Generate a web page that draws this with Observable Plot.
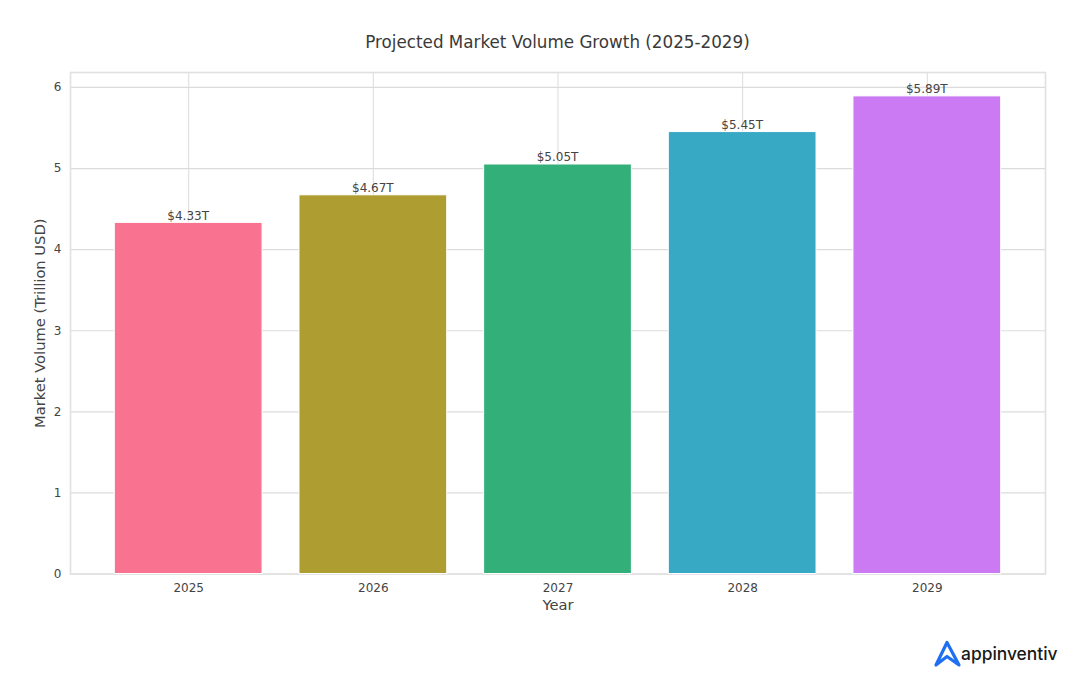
<!DOCTYPE html>
<html>
<head>
<meta charset="utf-8">
<script src="https://cdn.jsdelivr.net/npm/d3@7"></script>
<script src="https://cdn.jsdelivr.net/npm/@observablehq/plot@0.6"></script>
<style>
html,body{margin:0;padding:0;background:#fff;width:1080px;height:699px;overflow:hidden;font-family:"DejaVu Sans",sans-serif}
#title{position:absolute;left:70px;width:975px;top:32px;text-align:center;font-size:16.75px;line-height:20px;color:#3a3a3a}
#chart{position:absolute;left:0;top:60px}
#chart svg{display:block}
#logo{position:absolute;left:933px;top:639px;width:130px;height:30px}
#logo svg{position:absolute;left:0;top:0}
#logo span{position:absolute;left:28px;top:3px;line-height:24px;font-family:Inter,"Noto Sans",sans-serif;font-size:17.4px;font-weight:500;color:#1a1a1a;white-space:nowrap}
</style>
</head>
<body>
<div id="title">Projected Market Volume Growth (2025-2029)</div>
<div id="chart"></div>
<div id="logo">
<svg width="30" height="30" viewBox="0 0 30 30"><path d="M3 26 L14 3.5 L26 26 L14 17.5 Z" fill="none" stroke="#1f6ff2" stroke-width="3.2" stroke-linejoin="round" stroke-linecap="round"/></svg>
<span>appinventiv</span>
</div>
<script>
const years = ["2025", "2026", "2027", "2028", "2029"];
const volumes = [4.33, 4.67, 5.05, 5.45, 5.89];
const barLabels = ["$4.33T", "$4.67T", "$5.05T", "$5.45T", "$5.89T"];
const barColors = ["#f97390", "#ae9d31", "#33b07a", "#38a9c5", "#cc7af4"];
const yTicks = [0, 1, 2, 3, 4, 5, 6];
const yTop = 6.1845;

const rows = years.map((year, i) => ({year, volume: volumes[i], label: barLabels[i], color: barColors[i]}));

const plot = Plot.plot({
  width: 1080,
  height: 560,
  marginTop: 12,
  marginBottom: 46.5,
  marginLeft: 70,
  marginRight: 35,
  style: {fontFamily: '"DejaVu Sans", sans-serif', background: "#fff", overflow: "visible"},
  x: {domain: years, paddingInner: 0.2, paddingOuter: 0.24, round: false, label: null},
  y: {domain: [0, yTop], label: null},
  marks: [
    Plot.gridX(years, {stroke: "#dcdcdc", strokeOpacity: 1, strokeWidth: 1}),
    Plot.gridY(yTicks, {stroke: "#dcdcdc", strokeOpacity: 1, strokeWidth: 1.2}),
    Plot.frame({stroke: "#e0e0e0", strokeWidth: 1.6}),
    Plot.barY(rows, {x: "year", y: "volume", fill: "color", stroke: "#fff", strokeWidth: 1}),
    Plot.text(rows, {x: "year", y: "volume", text: "label", dx: -0.5, dy: -3, lineAnchor: "bottom", fontSize: 12, fill: "#444"}),
    Plot.axisX({tickSize: 0, tickPadding: 9, fontSize: 12, color: "#444", label: "Year", labelAnchor: "center", labelArrow: "none", labelOffset: 36, tickFormat: d => d}),
    Plot.axisY(yTicks, {tickSize: 0, tickPadding: 9, fontSize: 12, color: "#444", tickFormat: d => String(d), label: "Market Volume (Trillion USD)", labelAnchor: "center", labelArrow: "none", labelOffset: 36})
  ]
});
document.getElementById("chart").appendChild(plot);
d3.select(plot).selectAll('[aria-label="x-axis label"] text, [aria-label="y-axis label"] text').style("font-size", "14.7px");
</script>
</body>
</html>
